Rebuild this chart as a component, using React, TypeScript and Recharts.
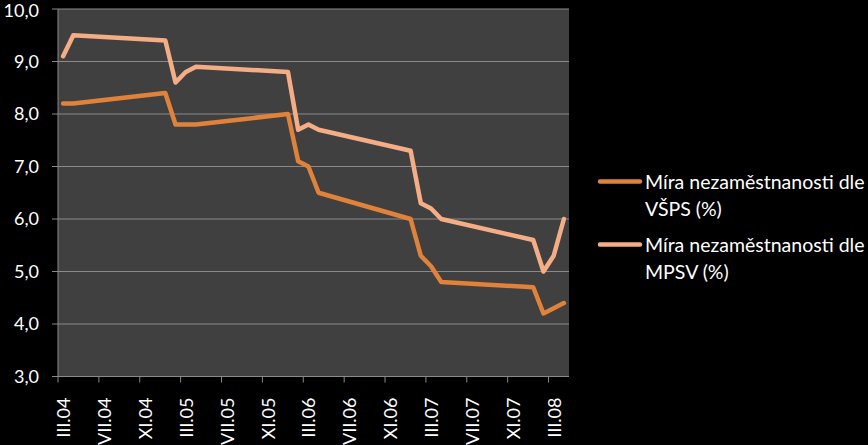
import React from 'react';
import { LineChart, Line, XAxis, YAxis, CartesianGrid, Legend } from 'recharts';

const months = ['2004-03','2004-04','2005-01','2005-02','2005-03','2005-04','2006-01','2006-02','2006-03','2006-04','2007-01','2007-02','2007-03','2007-04','2008-01','2008-02','2008-03','2008-04'];
const vsps = [8.2, 8.2, 8.4, 7.8, 7.8, 7.8, 8.0, 7.1, 7.0, 6.5, 6.0, 5.3, 5.1, 4.8, 4.7, 4.2, 4.3, 4.4];
const mpsv = [9.1, 9.5, 9.4, 8.6, 8.8, 8.9, 8.8, 7.7, 7.8, 7.7, 7.3, 6.3, 6.2, 6.0, 5.6, 5.0, 5.3, 6.0];
const tickLabels = ['III.04','VII.04','XI.04','III.05','VII.05','XI.05','III.06','VII.06','XI.06','III.07','VII.07','XI.07','III.08'];
const yTicks = [3, 4, 5, 6, 7, 8, 9, 10];
const seriesNames = ['Míra nezaměstnanosti dle VŠPS (%)', 'Míra nezaměstnanosti dle MPSV (%)'];

const START_Y = 2004, START_M = 3, SLOTS = 50;
const monthIndex = (s: string) => {
  const [y, m] = s.split('-').map(Number);
  return (y - START_Y) * 12 + (m - START_M);
};
const data = months.map((s, i) => ({ t: monthIndex(s) + 0.5, vsps: vsps[i], mpsv: mpsv[i] }));
const xTicks = tickLabels.map((_, i) => i * 4);

const W = 868, H = 445;
const M = { top: 9, right: 29, left: 0, bottom: 0 };
const Y_W = 58;
const LEGEND_W = 270;
const plotW = W - M.left - Y_W - M.right - LEGEND_W;
const halfSlot = plotW / SLOTS / 2;

const FONT = 'Lato, "Open Sans", sans-serif';
const GRID = '#8a8a8a';
const C1 = '#E0823A';
const C2 = '#F5AD85';

const XTick = (props: any) => {
  const { x, y, payload } = props;
  const lx = x + halfSlot;
  const label = tickLabels[Math.round(payload.value / 4)];
  return (
    <text x={lx} y={y} transform={`rotate(-90, ${lx}, ${y})`} textAnchor="end" dominantBaseline="central"
      fill="#fff" fontSize={18} fontFamily={FONT}>{label}</text>
  );
};

const LegendContent = (props: any) => {
  const items = [...(props.payload || [])].sort(
    (a: any, b: any) => seriesNames.indexOf(a.value) - seriesNames.indexOf(b.value)
  );
  return (
    <div style={{ fontFamily: FONT, fontSize: 19.5, color: '#fff', lineHeight: '27px' }}>
      {items.map((p: any, i: number) => (
        <div key={i} style={{ display: 'flex', alignItems: 'flex-start', marginBottom: i === 0 ? 9 : 0 }}>
          <svg width={47} height={27} style={{ flex: 'none' }}>
            <line x1={2} x2={42} y1={13.5} y2={13.5} stroke={p.color} strokeWidth={4.5} strokeLinecap="round" />
          </svg>
          <div style={{ width: 222 }}>{p.value}</div>
        </div>
      ))}
    </div>
  );
};

export default function App() {
  return (
    <div style={{ position: 'absolute', left: 0, top: 0, width: W, height: H, background: '#000' }}>
      <LineChart width={W} height={H} data={data} margin={M}>
        <CartesianGrid stroke={GRID} vertical={false} fill="#404040" />
        <XAxis dataKey="t" type="number" domain={[0, SLOTS]} ticks={xTicks} interval={0}
          height={H - M.top - 367.5} tick={<XTick />} tickSize={6} tickMargin={15}
          axisLine={{ stroke: GRID }} tickLine={{ stroke: GRID }} allowDecimals />
        <YAxis domain={[3, 10]} ticks={yTicks} width={Y_W} tickSize={6} tickMargin={13}
          tickFormatter={(v: number) => v.toFixed(1).replace('.', ',')}
          tick={{ fill: '#fff', fontSize: 18, fontFamily: FONT }}
          axisLine={{ stroke: GRID }} tickLine={{ stroke: GRID }} />
        <Legend layout="vertical" align="right" verticalAlign="middle" content={<LegendContent />}
          wrapperStyle={{ width: LEGEND_W, top: 168, left: 598, right: 'auto' }} />
        <Line type="linear" dataKey="vsps" name={seriesNames[0]} stroke={C1} strokeWidth={4.5} dot={false} isAnimationActive={false} strokeLinejoin="round" strokeLinecap="round" />
        <Line type="linear" dataKey="mpsv" name={seriesNames[1]} stroke={C2} strokeWidth={4.5} dot={false} isAnimationActive={false} strokeLinejoin="round" strokeLinecap="round" />
      </LineChart>
    </div>
  );
}
